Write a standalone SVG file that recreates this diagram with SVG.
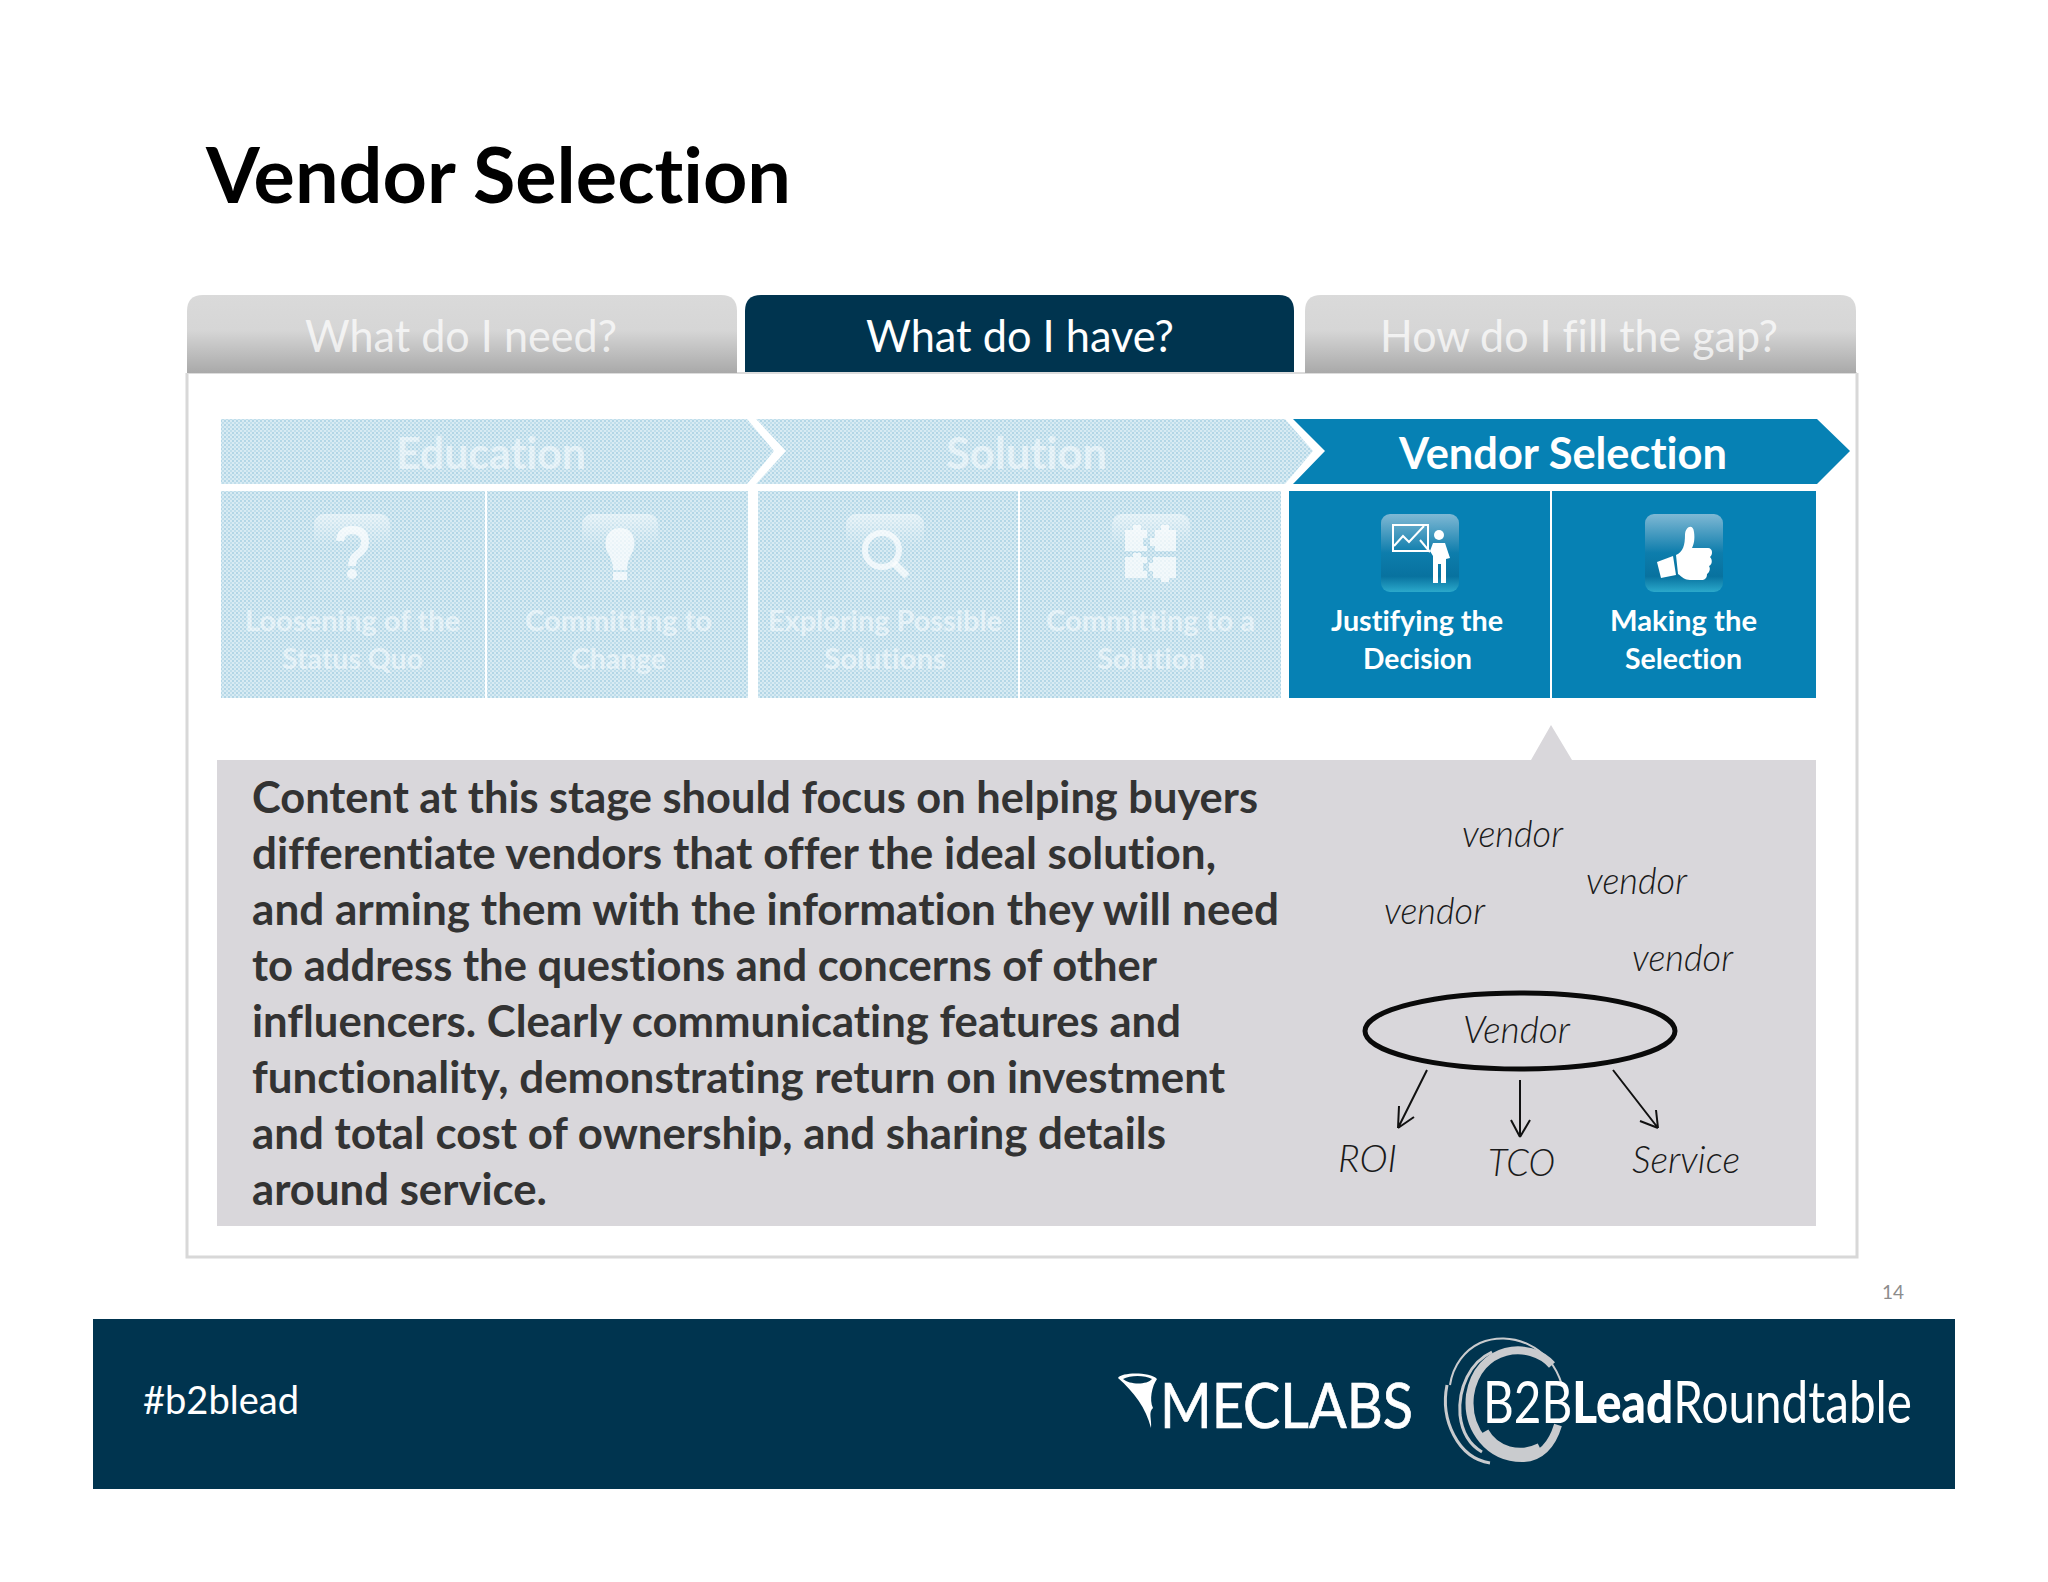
<svg xmlns="http://www.w3.org/2000/svg" width="2048" height="1582" viewBox="0 0 2048 1582">
<style>
text{font-family:Lato,"Liberation Sans",sans-serif;font-variant-ligatures:none}
.tab{font-size:44px;fill:#fff}
.tf{opacity:.72}
.b{font-weight:700}
.h{font-size:44px;font-weight:700;fill:#fff}
.c{font-size:29px;font-weight:700;fill:#fff}
.fd{opacity:.5}
.body{font-size:44px;font-weight:700;fill:#333}
.hw{font-size:38px;font-weight:300;font-style:italic;fill:#1a1a1a}
.ar{fill:none;stroke:#111;stroke-width:2}
.fi{fill:#fff;opacity:.7}
.logo{stroke:#fff;stroke-width:.7}
</style>
<defs>
<pattern id="dots" width="4" height="4" patternUnits="userSpaceOnUse">
<rect width="4" height="4" fill="#d8ebf3"/>
<rect width="2" height="2" fill="#b3d6e6"/>
<rect x="2" y="2" width="2" height="2" fill="#c0deeb"/>
</pattern>
<linearGradient id="tabg" x1="0" y1="0" x2="0" y2="1">
<stop offset="0" stop-color="#dadada"/><stop offset=".45" stop-color="#d6d6d6"/><stop offset="1" stop-color="#a9a9a9"/>
</linearGradient>
<linearGradient id="ico" x1="0" y1="0" x2="0" y2="1">
<stop offset="0" stop-color="#7fb8d4"/><stop offset=".5" stop-color="#0d7dac"/><stop offset=".8" stop-color="#08729f"/><stop offset="1" stop-color="#2ba9cb"/>
</linearGradient>
<linearGradient id="icof" x1="0" y1="0" x2="0" y2="1">
<stop offset="0" stop-color="#fff" stop-opacity=".5"/><stop offset=".4" stop-color="#fff" stop-opacity="0"/><stop offset="1" stop-color="#fff" stop-opacity=".06"/>
</linearGradient>
</defs>
<rect width="2048" height="1582" fill="#fff"/>

<g id="title"><text x="206" y="203" font-size="76" class="b" fill="#000" textLength="585" lengthAdjust="spacingAndGlyphs">Vendor Selection</text></g>

<g id="panel"><path d="M187 373V1257H1857V373" fill="#fff" stroke="#d8d8d8" stroke-width="3"/><line x1="187" y1="373" x2="1857" y2="373" stroke="#dcdcdc" stroke-width="2"/></g>

<g id="tab-need">
<path d="M187 373V311Q187 295 203 295H721Q737 295 737 311V373Z" fill="url(#tabg)"/>
<text x="305" y="352" class="tab tf" textLength="312" lengthAdjust="spacingAndGlyphs">What do I need?</text>
</g>
<g id="tab-have">
<path d="M745 372V311Q745 295 761 295H1279Q1294 295 1294 311V372Z" fill="#00344f"/>
<text x="866" y="352" class="tab" textLength="308" lengthAdjust="spacingAndGlyphs">What do I have?</text>
</g>
<g id="tab-gap">
<path d="M1305 373V311Q1305 295 1321 295H1840Q1856 295 1856 311V373Z" fill="url(#tabg)"/>
<text x="1380" y="352" class="tab tf" textLength="398" lengthAdjust="spacingAndGlyphs">How do I fill the gap?</text>
</g>

<g id="stage-education">
<path d="M221 419H747L774 451L747 484H221Z" fill="url(#dots)"/>
<text x="396" y="469" class="h fd" textLength="190" lengthAdjust="spacingAndGlyphs">Education</text>
</g>
<g id="stage-solution">
<path d="M756 419H1285L1313 451L1285 484H756L786 451Z" fill="url(#dots)"/>
<path d="M750 416L782 451L750 486" fill="none" stroke="#fff" stroke-width="4"/>
<text x="946" y="469" class="h fd" textLength="161" lengthAdjust="spacingAndGlyphs">Solution</text>
</g>
<g id="stage-vendor">
<path d="M1293 419H1817L1850 451L1817 484H1293L1325 451Z" fill="#0681b4"/>
<text x="1399" y="469" class="h" textLength="328" lengthAdjust="spacingAndGlyphs">Vendor Selection</text>
</g>

<g id="cell-loosening">
<rect x="221" y="491" width="264" height="207" fill="url(#dots)"/>
<rect x="314" y="514" width="76" height="78" rx="10" fill="url(#icof)"/>
<path d="M340 541Q341 530 352 530Q365 530 365 542Q365 549 358 554Q352 558 352 566" fill="none" stroke="#fff" stroke-width="8" opacity=".7"/>
<circle cx="352" cy="574" r="5" class="fi"/>
<text x="245" y="631" class="c fd" textLength="215" lengthAdjust="spacingAndGlyphs">Loosening of the</text>
<text x="282" y="669" class="c fd" textLength="141" lengthAdjust="spacingAndGlyphs">Status Quo</text>
</g>
<g id="cell-committing-change">
<rect x="487" y="491" width="261" height="207" fill="url(#dots)"/>
<rect x="582" y="514" width="76" height="78" rx="10" fill="url(#icof)"/>
<path d="M620 528C605 528 603 545 608 553C612 560 613 565 613 570H627C627 565 628 560 632 553C637 545 635 528 620 528Z" class="fi"/>
<rect x="613" y="572" width="14" height="8" class="fi"/>
<text x="525" y="631" class="c fd" textLength="187" lengthAdjust="spacingAndGlyphs">Committing to</text>
<text x="571" y="669" class="c fd" textLength="95" lengthAdjust="spacingAndGlyphs">Change</text>
</g>
<g id="cell-exploring">
<rect x="758" y="491" width="260" height="207" fill="url(#dots)"/>
<rect x="846" y="514" width="78" height="78" rx="10" fill="url(#icof)"/>
<circle cx="882" cy="550" r="17" fill="none" stroke="#fff" stroke-width="6" opacity=".7"/>
<line x1="894" y1="563" x2="907" y2="576" stroke="#fff" stroke-width="7" opacity=".7"/>
<text x="768" y="631" class="c fd" textLength="234" lengthAdjust="spacingAndGlyphs">Exploring Possible</text>
<text x="824" y="669" class="c fd" textLength="122" lengthAdjust="spacingAndGlyphs">Solutions</text>
</g>
<g id="cell-committing-solution">
<rect x="1020" y="491" width="261" height="207" fill="url(#dots)"/>
<rect x="1112" y="514" width="78" height="78" rx="10" fill="url(#icof)"/>
<g fill="#fff" opacity=".7">
<path d="M1125 530H1133V525H1141V530H1147V538H1143V546H1147V551H1125Z"/>
<path d="M1155 530H1161V525H1169V530H1176V551H1155V546H1150V538H1155Z"/>
<path d="M1125 557H1133V553H1141V557H1147V563H1143V571H1147V578H1125Z"/>
<path d="M1153 557H1176V578H1169V582H1161V578H1153V571H1149V563H1153Z"/>
</g>
<text x="1046" y="631" class="c fd" textLength="209" lengthAdjust="spacingAndGlyphs">Committing to a</text>
<text x="1097" y="669" class="c fd" textLength="108" lengthAdjust="spacingAndGlyphs">Solution</text>
</g>
<g id="cell-justifying">
<rect x="1289" y="491" width="261" height="207" fill="#0681b4"/>
<rect x="1381" y="514" width="78" height="78" rx="9" fill="url(#ico)"/>
<rect x="1393" y="525" width="35" height="26" fill="none" stroke="#fff" stroke-width="2"/>
<path d="M1394 546L1403 536L1409 542L1424 526" fill="none" stroke="#fff" stroke-width="2"/>
<line x1="1420" y1="540" x2="1430" y2="552" stroke="#fff" stroke-width="2"/>
<circle cx="1439" cy="535" r="5" fill="#fff"/>
<path d="M1430 551L1433 543H1445L1450 558L1446 559V583H1441V564H1438V583H1433V556Z" fill="#fff"/>
<text x="1331" y="631" class="c" textLength="172" lengthAdjust="spacingAndGlyphs">Justifying the</text>
<text x="1363" y="669" class="c" textLength="109" lengthAdjust="spacingAndGlyphs">Decision</text>
</g>
<g id="cell-making">
<rect x="1552" y="491" width="264" height="207" fill="#0681b4"/>
<rect x="1645" y="514" width="78" height="78" rx="9" fill="url(#ico)"/>
<path d="M1657 562L1673 556L1676 575L1661 578Z" fill="#fff"/>
<path d="M1676 555C1683 552 1685 545 1685 535C1685 527 1693 523 1694 532C1695 539 1694 544 1692 548H1708C1713 548 1713 555 1710 557C1713 560 1712 565 1709 566C1711 569 1709 573 1707 574C1707 578 1705 580 1701 580H1690C1685 580 1682 577 1678 574Z" fill="#fff"/>
<text x="1610" y="631" class="c" textLength="147" lengthAdjust="spacingAndGlyphs">Making the</text>
<text x="1625" y="669" class="c" textLength="117" lengthAdjust="spacingAndGlyphs">Selection</text>
</g>

<g id="callout">
<path d="M217 760H1531L1551 725L1572 760H1816V1226H217Z" fill="#d9d7db"/>
<text x="252" y="813" class="body" textLength="1006" lengthAdjust="spacingAndGlyphs">Content at this stage should focus on helping buyers</text>
<text x="252" y="869" class="body" textLength="964" lengthAdjust="spacingAndGlyphs">differentiate vendors that offer the ideal solution,</text>
<text x="252" y="925" class="body" textLength="1027" lengthAdjust="spacingAndGlyphs">and arming them with the information they will need</text>
<text x="252" y="981" class="body" textLength="905" lengthAdjust="spacingAndGlyphs">to address the questions and concerns of other</text>
<text x="252" y="1037" class="body" textLength="929" lengthAdjust="spacingAndGlyphs">influencers. Clearly communicating features and</text>
<text x="252" y="1093" class="body" textLength="973" lengthAdjust="spacingAndGlyphs">functionality, demonstrating return on investment</text>
<text x="252" y="1149" class="body" textLength="914" lengthAdjust="spacingAndGlyphs">and total cost of ownership, and sharing details</text>
<text x="252" y="1205" class="body" textLength="295" lengthAdjust="spacingAndGlyphs">around service.</text>
</g>

<g id="vendor-cloud">
<text x="1462" y="847" class="hw" textLength="101" lengthAdjust="spacingAndGlyphs">vendor</text>
<text x="1586" y="894" class="hw" textLength="101" lengthAdjust="spacingAndGlyphs">vendor</text>
<text x="1384" y="924" class="hw" textLength="101" lengthAdjust="spacingAndGlyphs">vendor</text>
<text x="1632" y="971" class="hw" textLength="101" lengthAdjust="spacingAndGlyphs">vendor</text>
</g>
<g id="vendor-chosen">
<ellipse cx="1520" cy="1031" rx="155" ry="38" fill="none" stroke="#0a0a0a" stroke-width="5"/>
<text x="1463" y="1043" class="hw" textLength="107" lengthAdjust="spacingAndGlyphs">Vendor</text>
</g>
<g id="connectors">
<path class="ar" d="M1427 1070L1398 1128M1398 1128L1399 1106M1398 1128L1414 1117"/>
<path class="ar" d="M1520 1080V1137M1520 1137L1511 1120M1520 1137L1530 1120"/>
<path class="ar" d="M1613 1070L1658 1128M1658 1128L1640 1121M1658 1128L1656 1110"/>
</g>
<g id="leaf-roi"><text x="1338" y="1172" class="hw" textLength="59" lengthAdjust="spacingAndGlyphs">ROI</text></g>
<g id="leaf-tco"><text x="1488" y="1176" class="hw" textLength="67" lengthAdjust="spacingAndGlyphs">TCO</text></g>
<g id="leaf-service"><text x="1632" y="1173" class="hw" textLength="108" lengthAdjust="spacingAndGlyphs">Service</text></g>

<g id="page-number"><text x="1882" y="1299" font-size="20" fill="#8c8c8c" textLength="22" lengthAdjust="spacingAndGlyphs">14</text></g>

<g id="footer">
<rect x="93" y="1319" width="1862" height="170" fill="#00344f"/>
<text x="143" y="1414" font-size="38" fill="#fff" textLength="156" lengthAdjust="spacingAndGlyphs">#b2blead</text>
<path d="M1118 1378C1122 1372 1150 1372 1157 1379C1152 1386 1149 1400 1153 1408C1148 1412 1152 1420 1151 1428C1146 1408 1134 1392 1118 1378ZM1123 1379C1130 1385 1147 1385 1152 1379C1145 1375 1130 1375 1123 1379Z" fill="#fff" fill-rule="evenodd"/>
<text x="1160" y="1428" font-size="62" class="logo" fill="#fff" textLength="253" lengthAdjust="spacingAndGlyphs">MECLABS</text>
<g fill="none" stroke="#c9cbce">
<path d="M1552 1365C1530 1340 1478 1345 1470 1395C1466 1430 1490 1458 1522 1458C1540 1458 1552 1445 1558 1425" stroke-width="8"/>
<path d="M1562 1385C1550 1345 1510 1330 1480 1343C1465 1350 1453 1365 1450 1385" stroke-width="2"/>
<path d="M1447 1385C1440 1420 1458 1458 1490 1463" stroke-width="3"/>
<path d="M1492 1352C1470 1362 1458 1388 1460 1415C1462 1432 1470 1445 1482 1452" stroke-width="3"/>
<path d="M1484 1432C1495 1452 1520 1458 1540 1448" stroke-width="10"/>
</g>
<text x="1483" y="1423" font-size="58" fill="#fff" textLength="429" lengthAdjust="spacingAndGlyphs">B2B<tspan font-weight="900">Lead</tspan>Roundtable</text>
</g>
</svg>
